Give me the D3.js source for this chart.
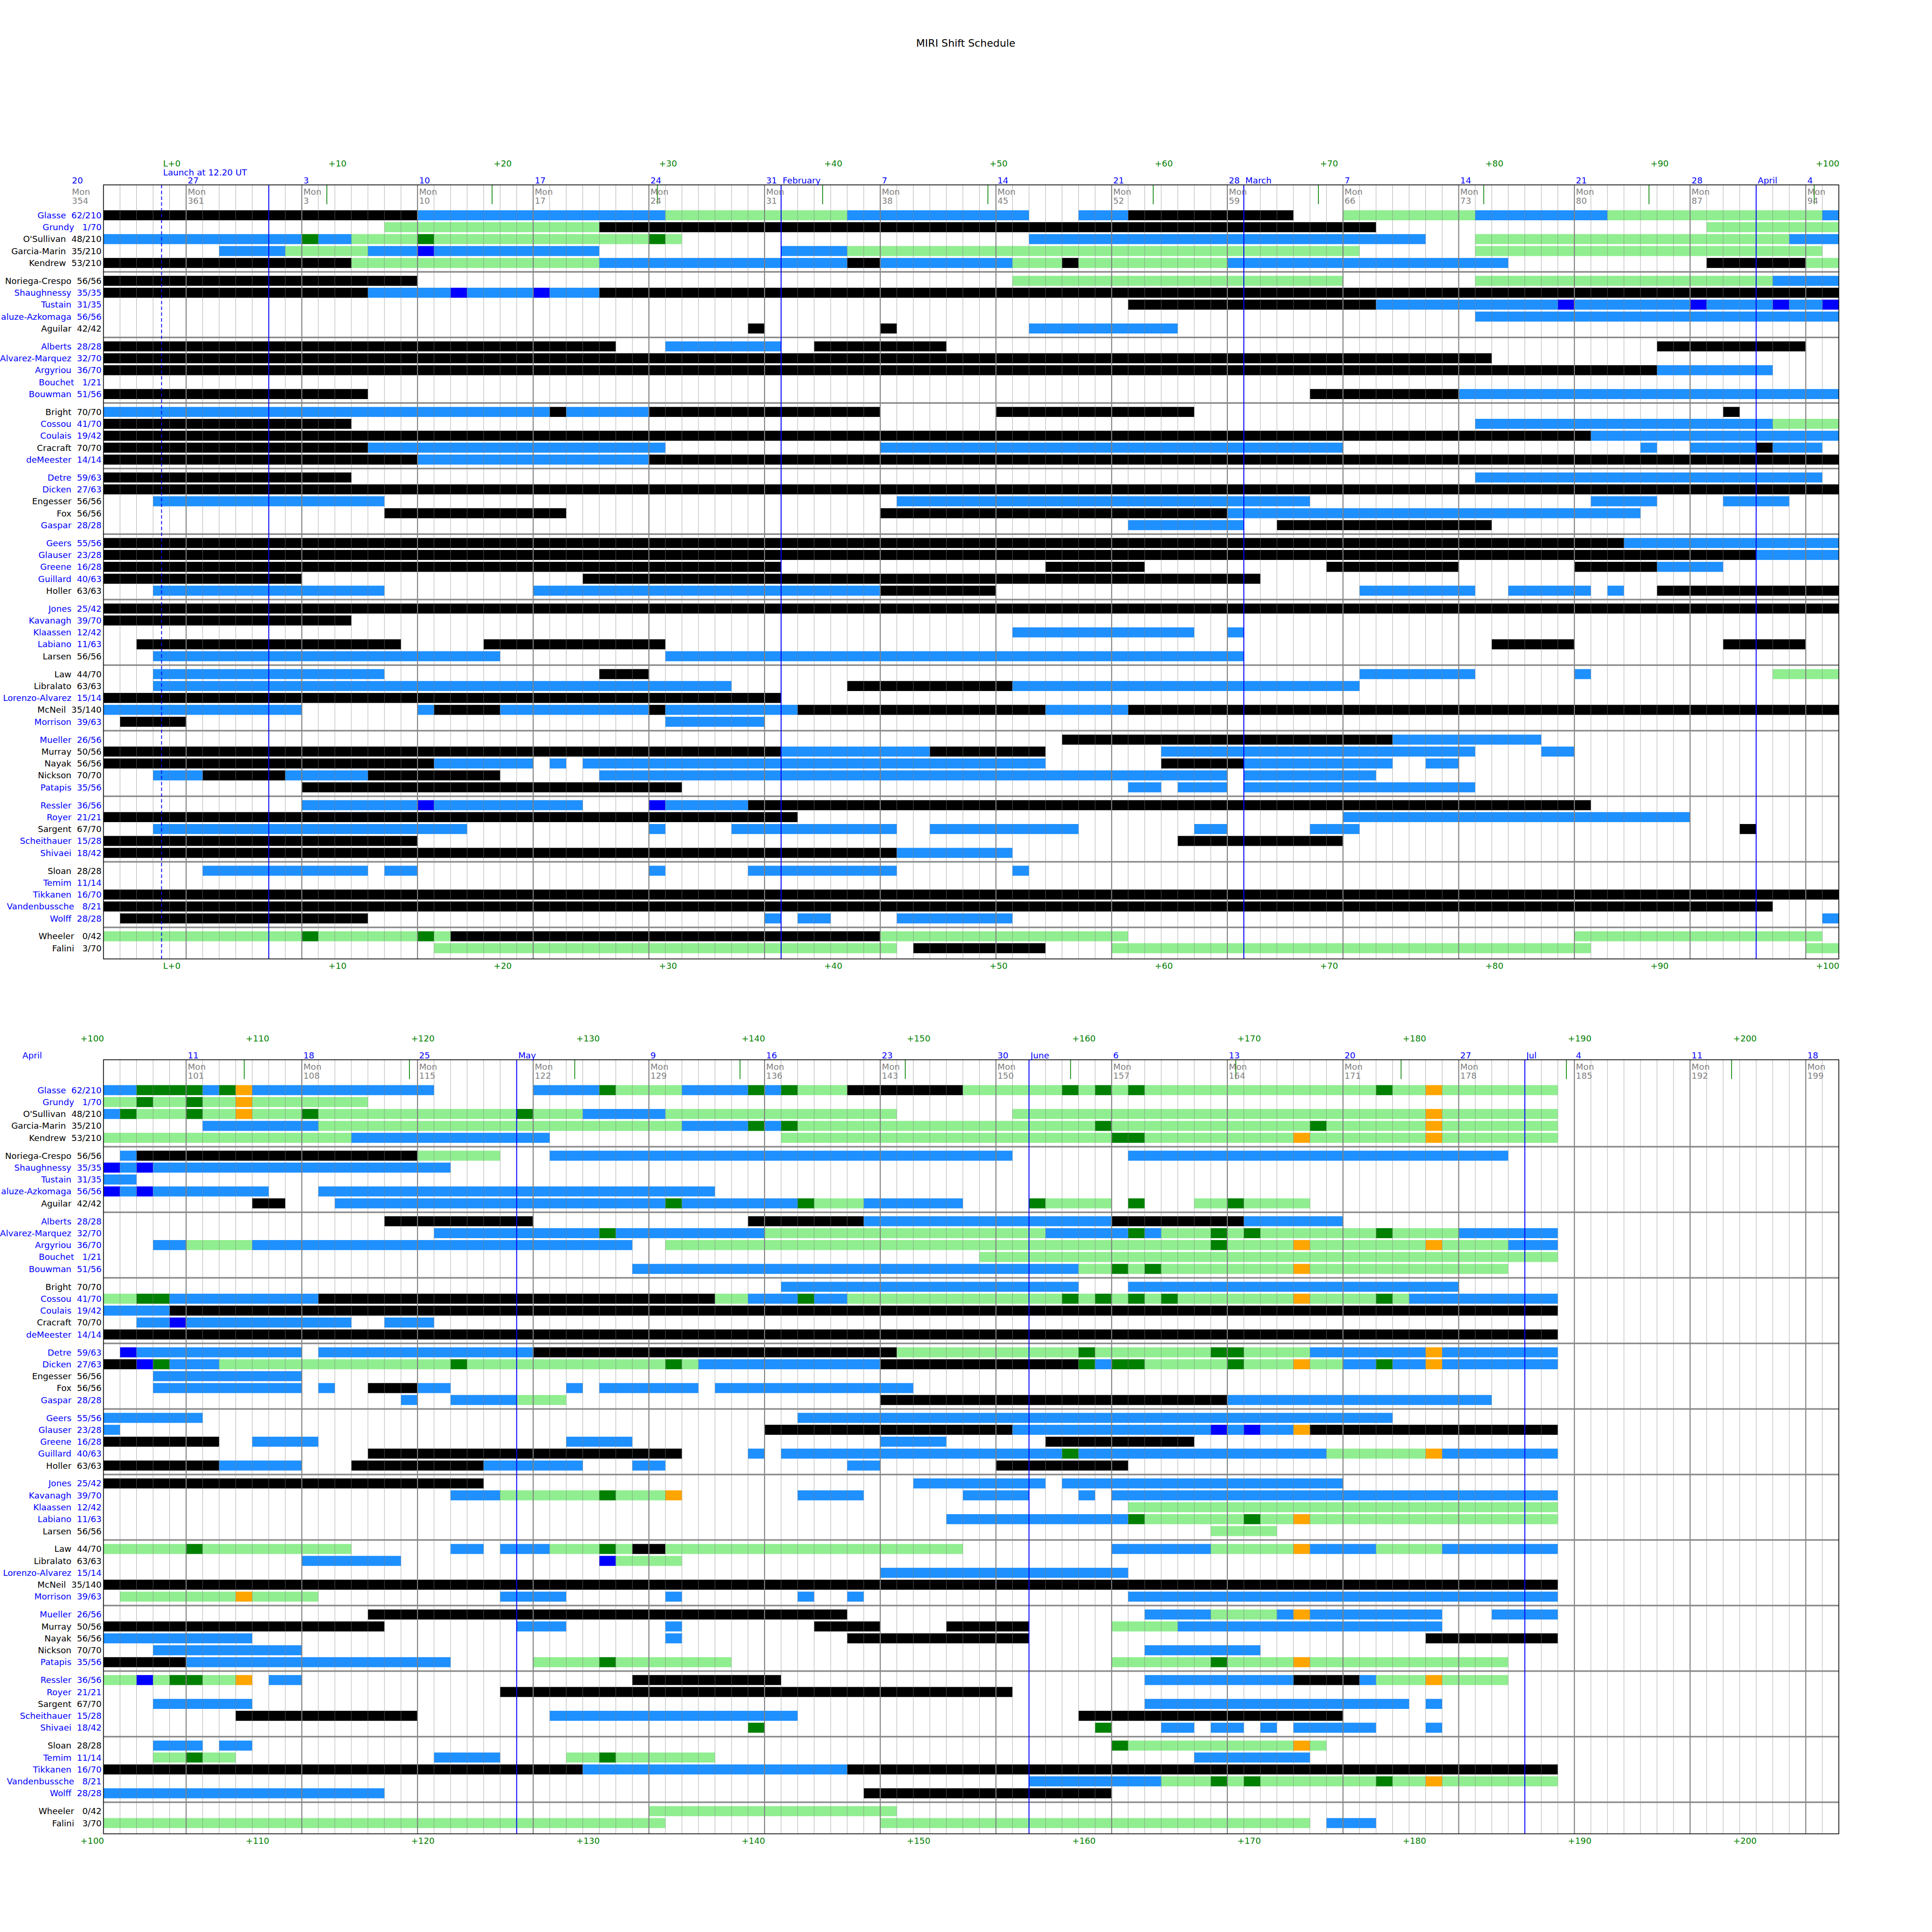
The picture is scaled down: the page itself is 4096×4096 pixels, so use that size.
<!DOCTYPE html>
<html><head><meta charset="utf-8">
<script src="https://cdn.jsdelivr.net/npm/d3@7"></script>
<style>html,body{margin:0;padding:0;background:#fff}</style>
</head><body>
<script>
// ---------------- DATA ----------------
const names = ["Glasse","Grundy","O'Sullivan","Garcia-Marin","Kendrew",
"Noriega-Crespo","Shaughnessy","Tustain","aluze-Azkomaga","Aguilar",
"Alberts","Alvarez-Marquez","Argyriou","Bouchet","Bouwman",
"Bright","Cossou","Coulais","Cracraft","deMeester",
"Detre","Dicken","Engesser","Fox","Gaspar",
"Geers","Glauser","Greene","Guillard","Holler",
"Jones","Kavanagh","Klaassen","Labiano","Larsen",
"Law","Libralato","Lorenzo-Alvarez","McNeil","Morrison",
"Mueller","Murray","Nayak","Nickson","Patapis",
"Ressler","Royer","Sargent","Scheithauer","Shivaei",
"Sloan","Temim","Tikkanen","Vandenbussche","Wolff",
"Wheeler","Falini"];
const shiftsDone = [62,1,48,35,53, 56,35,31,56,42, 28,32,36,1,51, 70,41,19,70,14, 59,27,56,56,28, 55,23,16,40,63, 25,39,12,11,56, 44,63,15,35,39, 26,50,56,70,35, 36,21,67,15,18, 28,11,16,8,28, 0,3];
const shiftsQuota = [210,70,210,210,210, 56,35,35,56,42, 28,70,70,21,56, 70,70,42,70,14, 63,63,56,56,28, 56,28,28,63,63, 42,70,42,63,56, 70,63,14,140,63, 56,56,56,70,56, 56,21,70,28,42, 28,14,70,21,28, 42,70];
const labelBlue = [1,1,0,0,0, 0,1,1,1,0, 1,1,1,1,1, 0,1,1,0,1, 1,1,0,0,1, 1,1,1,1,0, 1,1,1,1,0, 0,0,1,0,1, 1,0,0,0,1, 1,1,0,1,1, 0,1,1,1,1, 0,0];

// shift codes: K black, B dodgerblue, G lightgreen, D green, U blue, O orange
const shiftColors = {K:"#000000", B:"#1e90ff", G:"#90ee90", D:"#008000", U:"#0000ff", O:"#ffa500"};

// segments: [startDay, endDay, code]; day = day-of-year 2022 (Dec 2021 negative)
const segments = [
/*Glasse*/ [[-9,10,"K"],[10,25,"B"],[25,36,"G"],[36,47,"B"],[50,53,"B"],[53,63,"K"],[66,74,"G"],[74,82,"B"],[82,95,"G"],[95,98,"B"],[98,102,"D"],[102,103,"B"],[103,104,"D"],[104,105,"O"],[105,116,"B"],[122,126,"B"],[126,127,"D"],[127,131,"G"],[131,135,"B"],[135,136,"D"],[136,137,"B"],[137,138,"D"],[138,141,"G"],[141,148,"K"],[148,154,"G"],[154,155,"D"],[155,156,"G"],[156,157,"D"],[157,158,"G"],[158,159,"D"],[159,173,"G"],[173,174,"D"],[174,176,"G"],[176,177,"O"],[177,184,"G"]],
/*Grundy*/ [[8,21,"G"],[21,68,"K"],[88,98,"G"],[98,99,"D"],[99,101,"G"],[101,102,"D"],[102,104,"G"],[104,105,"O"],[105,112,"G"]],
/*O'Sullivan*/ [[-9,3,"B"],[3,4,"D"],[4,6,"B"],[6,10,"G"],[10,11,"D"],[11,24,"G"],[24,25,"D"],[25,26,"G"],[47,71,"B"],[74,93,"G"],[93,97,"B"],[97,98,"D"],[98,101,"G"],[101,102,"D"],[102,104,"G"],[104,105,"O"],[105,108,"G"],[108,109,"D"],[109,121,"G"],[121,122,"D"],[122,125,"G"],[125,130,"B"],[130,144,"G"],[151,176,"G"],[176,177,"O"],[177,184,"G"]],
/*Garcia-Marin*/ [[-2,2,"B"],[2,7,"G"],[7,10,"B"],[10,11,"U"],[11,21,"B"],[32,36,"B"],[36,67,"G"],[74,95,"G"],[102,109,"B"],[109,131,"G"],[131,135,"B"],[135,136,"D"],[136,137,"B"],[137,138,"D"],[138,156,"G"],[156,157,"D"],[157,169,"G"],[169,170,"D"],[170,176,"G"],[176,177,"O"],[177,184,"G"]],
/*Kendrew*/ [[-9,6,"K"],[6,21,"G"],[21,36,"B"],[36,38,"K"],[38,46,"B"],[46,49,"G"],[49,50,"K"],[50,59,"G"],[59,76,"B"],[88,94,"K"],[94,111,"G"],[111,123,"B"],[137,157,"G"],[157,159,"D"],[159,168,"G"],[168,169,"O"],[169,176,"G"],[176,177,"O"],[177,184,"G"]],
/*Noriega-Crespo*/ [[-9,10,"K"],[46,66,"G"],[74,92,"G"],[92,96,"B"],[97,98,"B"],[98,115,"K"],[115,120,"G"],[123,151,"B"],[158,181,"B"]],
/*Shaughnessy*/ [[-9,7,"K"],[7,12,"B"],[12,13,"U"],[13,17,"B"],[17,18,"U"],[18,21,"B"],[21,96,"K"],[96,97,"U"],[97,98,"B"],[98,99,"U"],[99,117,"B"]],
/*Tustain*/ [[53,68,"K"],[68,79,"B"],[79,80,"U"],[80,87,"B"],[87,88,"U"],[88,92,"B"],[92,93,"U"],[93,95,"B"],[95,96,"U"],[96,98,"B"]],
/*(Vill)aluze-Azkomaga*/ [[74,96,"B"],[96,97,"U"],[97,98,"B"],[98,99,"U"],[99,106,"B"],[109,133,"B"]],
/*Aguilar*/ [[30,31,"K"],[38,39,"K"],[47,56,"B"],[105,107,"K"],[110,130,"B"],[130,131,"D"],[131,138,"B"],[138,139,"D"],[139,142,"G"],[142,148,"B"],[152,153,"D"],[153,157,"G"],[158,159,"D"],[162,164,"G"],[164,165,"D"],[165,169,"G"]],
/*Alberts*/ [[-9,22,"K"],[25,32,"B"],[34,42,"K"],[85,94,"K"],[113,122,"K"],[135,142,"K"],[142,157,"B"],[157,165,"K"],[165,171,"B"]],
/*Alvarez-Marquez*/ [[-9,75,"K"],[116,126,"B"],[126,127,"D"],[127,136,"B"],[136,153,"G"],[153,158,"B"],[158,159,"D"],[159,160,"B"],[160,163,"G"],[163,164,"D"],[164,165,"G"],[165,166,"D"],[166,173,"G"],[173,174,"D"],[174,178,"G"],[178,184,"B"]],
/*Argyriou*/ [[-9,85,"K"],[85,92,"B"],[99,101,"B"],[101,105,"G"],[105,128,"B"],[130,163,"G"],[163,164,"D"],[164,168,"G"],[168,169,"O"],[169,176,"G"],[176,177,"O"],[177,181,"G"],[181,184,"B"]],
/*Bouchet*/ [[149,184,"G"]],
/*Bouwman*/ [[-9,7,"K"],[64,73,"K"],[73,96,"B"],[128,155,"B"],[155,157,"G"],[157,158,"D"],[158,159,"G"],[159,160,"D"],[160,168,"G"],[168,169,"O"],[169,181,"G"]],
/*Bright*/ [[-9,18,"B"],[18,19,"K"],[19,24,"B"],[24,38,"K"],[45,57,"K"],[89,90,"K"],[137,155,"B"],[158,178,"B"]],
/*Cossou*/ [[-9,6,"K"],[74,92,"B"],[92,98,"G"],[98,100,"D"],[100,109,"B"],[109,133,"K"],[133,135,"G"],[135,138,"B"],[138,139,"D"],[139,141,"B"],[141,154,"G"],[154,155,"D"],[155,156,"G"],[156,157,"D"],[157,158,"G"],[158,159,"D"],[159,160,"G"],[160,161,"D"],[161,168,"G"],[168,169,"O"],[169,173,"G"],[173,174,"D"],[174,175,"G"],[175,184,"B"]],
/*Coulais*/ [[-9,81,"K"],[81,100,"B"],[100,184,"K"]],
/*Cracraft*/ [[-9,7,"K"],[7,25,"B"],[38,66,"B"],[84,85,"B"],[87,91,"B"],[91,92,"K"],[92,95,"B"],[98,100,"B"],[100,101,"U"],[101,111,"B"],[113,116,"B"]],
/*deMeester*/ [[-9,10,"K"],[10,24,"B"],[24,184,"K"]],
/*Detre*/ [[-9,6,"K"],[74,95,"B"],[97,98,"U"],[98,108,"B"],[109,122,"B"],[122,144,"K"],[144,155,"G"],[155,156,"D"],[156,163,"G"],[163,165,"D"],[165,169,"G"],[169,176,"B"],[176,177,"O"],[177,184,"B"]],
/*Dicken*/ [[-9,98,"K"],[98,99,"U"],[99,100,"D"],[100,103,"B"],[103,117,"G"],[117,118,"D"],[118,130,"G"],[130,131,"D"],[131,132,"G"],[132,143,"B"],[143,155,"K"],[155,156,"D"],[156,157,"B"],[157,159,"D"],[159,164,"G"],[164,165,"D"],[165,168,"G"],[168,169,"O"],[169,171,"G"],[171,173,"B"],[173,174,"D"],[174,176,"B"],[176,177,"O"],[177,184,"B"]],
/*Engesser*/ [[-6,8,"B"],[39,64,"B"],[81,85,"B"],[89,93,"B"],[99,108,"B"]],
/*Fox*/ [[8,19,"K"],[38,59,"K"],[59,84,"B"],[99,108,"B"],[109,110,"B"],[112,115,"K"],[115,117,"B"],[124,125,"B"],[126,132,"B"],[133,145,"B"]],
/*Gaspar*/ [[53,60,"B"],[62,75,"K"],[114,115,"B"],[117,121,"B"],[121,124,"G"],[143,164,"K"],[164,180,"B"]],
/*Geers*/ [[-9,83,"K"],[83,102,"B"],[138,174,"B"]],
/*Glauser*/ [[-9,91,"K"],[91,97,"B"],[136,151,"K"],[151,163,"B"],[163,164,"U"],[164,165,"B"],[165,166,"U"],[166,168,"B"],[168,169,"O"],[169,184,"K"]],
/*Greene*/ [[-9,32,"K"],[48,54,"K"],[65,73,"K"],[80,85,"K"],[85,89,"B"],[96,103,"K"],[105,109,"B"],[124,128,"B"],[143,147,"B"],[153,162,"K"]],
/*Guillard*/ [[-9,3,"K"],[20,61,"K"],[112,131,"K"],[135,136,"B"],[137,154,"B"],[154,155,"D"],[155,170,"B"],[170,176,"G"],[176,177,"O"],[177,184,"B"]],
/*Holler*/ [[-6,8,"B"],[17,38,"B"],[38,45,"K"],[67,74,"B"],[76,81,"B"],[82,83,"B"],[85,103,"K"],[103,108,"B"],[111,119,"K"],[119,125,"B"],[128,130,"B"],[141,143,"B"],[150,158,"K"]],
/*Jones*/ [[-9,119,"K"],[145,153,"B"],[154,171,"B"]],
/*Kavanagh*/ [[-9,6,"K"],[117,120,"B"],[120,126,"G"],[126,127,"D"],[127,130,"G"],[130,131,"O"],[138,142,"B"],[148,152,"B"],[155,156,"B"],[157,184,"B"]],
/*Klaassen*/ [[46,57,"B"],[59,60,"B"],[158,184,"G"]],
/*Labiano*/ [[-7,9,"K"],[14,25,"K"],[75,80,"K"],[89,94,"K"],[147,158,"B"],[158,159,"D"],[159,165,"G"],[165,166,"D"],[166,168,"G"],[168,169,"O"],[169,184,"G"]],
/*Larsen*/ [[-6,15,"B"],[25,60,"B"],[163,167,"G"]],
/*Law*/ [[-6,8,"B"],[21,24,"K"],[67,74,"B"],[80,81,"B"],[92,101,"G"],[101,102,"D"],[102,111,"G"],[117,119,"B"],[120,123,"B"],[123,126,"G"],[126,127,"D"],[127,128,"G"],[128,130,"K"],[130,148,"G"],[157,163,"B"],[163,168,"G"],[168,169,"O"],[169,173,"B"],[173,177,"G"],[177,184,"B"]],
/*Libralato*/ [[-6,29,"B"],[36,46,"K"],[46,67,"B"],[108,114,"B"],[126,127,"U"],[127,131,"G"]],
/*Lorenzo-Alvarez*/ [[-9,32,"K"],[143,158,"B"]],
/*McNeil*/ [[-9,3,"B"],[10,11,"B"],[11,15,"K"],[15,24,"B"],[24,25,"K"],[25,33,"B"],[33,48,"K"],[48,53,"B"],[53,184,"K"]],
/*Morrison*/ [[-8,-4,"K"],[25,31,"B"],[97,104,"G"],[104,105,"O"],[105,109,"G"],[120,124,"B"],[130,131,"B"],[138,139,"B"],[141,142,"B"],[158,184,"B"]],
/*Mueller*/ [[49,69,"K"],[69,78,"B"],[112,141,"K"],[159,163,"B"],[163,167,"G"],[167,168,"B"],[168,169,"O"],[169,177,"B"],[180,184,"B"]],
/*Murray*/ [[-9,32,"K"],[32,41,"B"],[41,48,"K"],[55,74,"B"],[78,80,"B"],[96,113,"K"],[121,124,"B"],[130,131,"B"],[139,143,"K"],[147,152,"K"],[157,161,"G"],[161,177,"B"]],
/*Nayak*/ [[-9,11,"K"],[11,17,"B"],[18,19,"B"],[20,48,"B"],[55,60,"K"],[60,69,"B"],[71,73,"B"],[96,105,"B"],[130,131,"B"],[141,152,"K"],[176,184,"K"]],
/*Nickson*/ [[-6,-3,"B"],[-3,2,"K"],[2,7,"B"],[7,15,"K"],[21,59,"B"],[60,68,"B"],[99,108,"B"],[159,166,"B"]],
/*Patapis*/ [[3,26,"K"],[53,55,"B"],[56,59,"B"],[60,74,"B"],[96,101,"K"],[101,117,"B"],[122,126,"G"],[126,127,"D"],[127,134,"G"],[157,163,"G"],[163,164,"D"],[164,168,"G"],[168,169,"O"],[169,181,"G"]],
/*Ressler*/ [[3,10,"B"],[10,11,"U"],[11,20,"B"],[24,25,"U"],[25,30,"B"],[30,81,"K"],[96,98,"G"],[98,99,"U"],[99,100,"G"],[100,102,"D"],[102,104,"G"],[104,105,"O"],[106,108,"B"],[128,137,"K"],[159,168,"B"],[168,172,"K"],[172,173,"B"],[173,176,"G"],[176,177,"O"],[177,181,"G"]],
/*Royer*/ [[-9,33,"K"],[66,87,"B"],[120,151,"K"]],
/*Sargent*/ [[-6,13,"B"],[24,25,"B"],[29,39,"B"],[41,50,"B"],[57,59,"B"],[64,67,"B"],[90,91,"K"],[99,105,"B"],[159,175,"B"],[176,177,"B"]],
/*Scheithauer*/ [[-9,10,"K"],[56,66,"K"],[104,115,"K"],[123,138,"B"],[155,171,"K"]],
/*Shivaei*/ [[-9,39,"K"],[39,46,"B"],[135,136,"D"],[156,157,"D"],[160,162,"B"],[163,165,"B"],[166,167,"B"],[168,173,"B"],[176,177,"B"]],
/*Sloan*/ [[-3,7,"B"],[8,10,"B"],[24,25,"B"],[30,39,"B"],[46,47,"B"],[99,102,"B"],[103,105,"B"],[157,158,"D"],[158,168,"G"],[168,169,"O"],[169,170,"G"]],
/*Temim*/ [[99,101,"G"],[101,102,"D"],[102,104,"G"],[116,120,"B"],[124,126,"G"],[126,127,"D"],[127,133,"G"],[162,169,"B"]],
/*Tikkanen*/ [[-9,125,"K"],[125,141,"B"],[141,184,"K"]],
/*Vandenbussche*/ [[-9,92,"K"],[152,160,"B"],[160,163,"G"],[163,164,"D"],[164,165,"G"],[165,166,"D"],[166,173,"G"],[173,174,"D"],[174,176,"G"],[176,177,"O"],[177,184,"G"]],
/*Wolff*/ [[-8,7,"K"],[31,32,"B"],[33,35,"B"],[39,46,"B"],[95,113,"B"],[142,157,"K"]],
/*Wheeler*/ [[-9,3,"G"],[3,4,"D"],[4,10,"G"],[10,11,"D"],[11,12,"G"],[12,38,"K"],[38,53,"G"],[80,95,"G"],[129,144,"G"]],
/*Falini*/ [[11,39,"G"],[40,48,"K"],[52,81,"G"],[94,130,"G"],[143,169,"G"],[170,173,"B"]]
];

const launchDay = -5.486;          // 25 Dec 2021 12:20 UT
const launchLabel = "Launch at 12.20 UT";
const topMondays = [-11,-4,3,10,17,24,31,38,45,52,59,66,73,80,87,94];
const topMondayDate = ["20","27","3","10","17","24","31","7","14","21","28","7","14","21","28","4"];
const topMondayDoy = ["354","361","3","10","17","24","31","38","45","52","59","66","73","80","87","94"];
const bottomMondays = [101,108,115,122,129,136,143,150,157,164,171,178,185,192,199];
const bottomMondayDate = ["11","18","25","","9","16","23","30","6","13","20","27","4","11","18"];
const bottomMondayDoy = ["101","108","115","122","129","136","143","150","157","164","171","178","185","192","199"];
const topMonthStarts = [1,32,60,91];
const topMonthNames = ["","February","March","April"];
const bottomMonthStarts = [91,121,152,182];
const bottomMonthNames = ["April","May","June","Jul"];
const topRel = [0,10,20,30,40,50,60,70,80,90,100];
const bottomRel = [100,110,120,130,140,150,160,170,180,190,200];

// ---------------- DRAW ----------------
const S = 0.819;
const FS = 22.2;
const svg = d3.select("body").append("svg").attr("width",4096).attr("height",4096)
  .style("display","block").style("font-family","'DejaVu Sans', sans-serif");
svg.append("rect").attr("width",4096).attr("height",4096).attr("fill","#fff");
const root = svg.append("g").attr("transform",`scale(${S})`);

root.append("text").attr("x",2500).attr("y",121).attr("text-anchor","middle")
  .style("font-size",(FS*1.2)+"px").attr("fill","#000").text("MIRI Shift Schedule");

const plotLeft = 267.9, plotRight = 4760;
const top0 = 478.6, bot0 = 2482.3, shift = 2264.7;
const yDomain = [-2.55, 62.4];
const rowPos = i => Math.floor(i/5)*5.5 + (i%5);
const nGroups = Math.ceil(names.length/5);

const panels = [
  {d0:-9, d1:96, oy:0, mondays:topMondays, mDate:topMondayDate, mDoy:topMondayDoy, months:topMonthStarts, mNames:topMonthNames, rel:topRel, launch:true},
  {d0:96, d1:201, oy:shift, mondays:bottomMondays, mDate:bottomMondayDate, mDoy:bottomMondayDoy, months:bottomMonthStarts, mNames:bottomMonthNames, rel:bottomRel, launch:false}
];

panels.forEach(p => {
  const top = top0 + p.oy, bottom = bot0 + p.oy;
  const x = d3.scaleLinear().domain([p.d0,p.d1]).range([plotLeft, plotRight]);
  const y = d3.scaleLinear().domain(yDomain).range([top, bottom]);
  const bh = y(0.84) - y(0);
  const g = root.append("g");
  const inside = d => d > p.d0 && d < p.d1;

  // bars
  const rects = [];
  segments.forEach((segs, i) => {
    segs.forEach(s => {
      const a = Math.max(s[0], p.d0), b = Math.min(s[1], p.d1);
      if (b > a) rects.push({a, b, c: s[2], i});
    });
  });
  g.append("g").selectAll("rect").data(rects).join("rect")
    .attr("x", d => x(d.a)).attr("width", d => x(d.b) - x(d.a))
    .attr("y", d => y(rowPos(d.i)) - bh/2).attr("height", bh)
    .attr("fill", d => shiftColors[d.c]);

  // daily grid
  const days = d3.range(p.d0 + 1, p.d1);
  g.append("g").selectAll("line").data(days).join("line")
    .attr("x1", d => x(d)).attr("x2", d => x(d)).attr("y1", top).attr("y2", bottom)
    .attr("stroke", "#808080").attr("stroke-opacity", 0.6).attr("stroke-width", 1.3);
  // monday lines
  g.append("g").selectAll("line").data(p.mondays.filter(inside)).join("line")
    .attr("x1", d => x(d)).attr("x2", d => x(d)).attr("y1", top).attr("y2", bottom)
    .attr("stroke", "#808080").attr("stroke-width", 2.6);
  // group separators
  g.append("g").selectAll("line").data(d3.range(1, nGroups)).join("line")
    .attr("x1", plotLeft).attr("x2", plotRight)
    .attr("y1", k => y(k*5.5 - 0.75)).attr("y2", k => y(k*5.5 - 0.75))
    .attr("stroke", "#888").attr("stroke-width", 4);
  // month lines
  g.append("g").selectAll("line").data(p.months.filter(inside)).join("line")
    .attr("x1", d => x(d)).attr("x2", d => x(d)).attr("y1", top).attr("y2", bottom)
    .attr("stroke", "#0000ff").attr("stroke-width", 2.4);
  // launch line
  if (p.launch) {
    g.append("line").attr("x1", x(launchDay)).attr("x2", x(launchDay)).attr("y1", top).attr("y2", bottom)
      .attr("stroke", "#0000ff").attr("stroke-width", 2.2).attr("stroke-dasharray", "9,6");
    g.append("text").attr("x", x(launchDay) + 4).attr("y", top - 24.5)
      .style("font-size", FS+"px").attr("fill", "#0000ff").text(launchLabel);
  }
  // green ticks
  g.append("g").selectAll("line").data(p.rel.filter(n => n !== 0 && inside(launchDay + n))).join("line")
    .attr("x1", n => x(launchDay + n)).attr("x2", n => x(launchDay + n))
    .attr("y1", top).attr("y2", top + 50)
    .attr("stroke", "#008000").attr("stroke-width", 2);
  // frame
  g.append("rect").attr("x", plotLeft).attr("y", top).attr("width", plotRight - plotLeft).attr("height", bottom - top)
    .attr("fill", "none").attr("stroke", "#000").attr("stroke-width", 2);

  // relative labels top and bottom
  const relText = n => n === 0 ? "L+0" : "+" + n;
  [top - 47, bottom + 25.7].forEach(yy => {
    g.append("g").selectAll("text").data(p.rel).join("text")
      .attr("x", n => x(launchDay + n) + 4).attr("y", yy)
      .style("font-size", FS+"px").attr("fill", "#008000").text(relText);
  });
  // monday labels
  const mi = d3.range(p.mondays.length);
  g.append("g").selectAll("text").data(mi).join("text")
    .attr("x", k => x(p.mondays[k]) + 4).attr("y", top - 3.5)
    .style("font-size", FS+"px").attr("fill", "#0000ff").text(k => p.mDate[k]);
  g.append("g").selectAll("text").data(mi).join("text")
    .attr("x", k => x(p.mondays[k]) + 4).attr("y", top + 25.5)
    .style("font-size", FS+"px").attr("fill", "#808080").text("Mon");
  g.append("g").selectAll("text").data(mi).join("text")
    .attr("x", k => x(p.mondays[k]) + 4).attr("y", top + 49)
    .style("font-size", FS+"px").attr("fill", "#808080").text(k => p.mDoy[k]);
  // month names
  g.append("g").selectAll("text").data(d3.range(p.months.length)).join("text")
    .attr("x", k => x(p.months[k]) + 4).attr("y", top - 3.5)
    .style("font-size", FS+"px").attr("fill", "#0000ff").text(k => p.mNames[k]);

  // row labels
  g.append("g").selectAll("text").data(names).join("text")
    .attr("x", plotLeft - 5).attr("y", (d, i) => y(rowPos(i)))
    .attr("text-anchor", "end").attr("dominant-baseline", "central")
    .attr("xml:space", "preserve").style("white-space", "pre")
    .style("font-size", FS+"px")
    .attr("fill", (d, i) => labelBlue[i] ? "#0000ff" : "#000000")
    .text((d, i) => `${d}  ${String(shiftsDone[i]).padStart(2, " ")}/${shiftsQuota[i]}`);
});
</script>
</body></html>
